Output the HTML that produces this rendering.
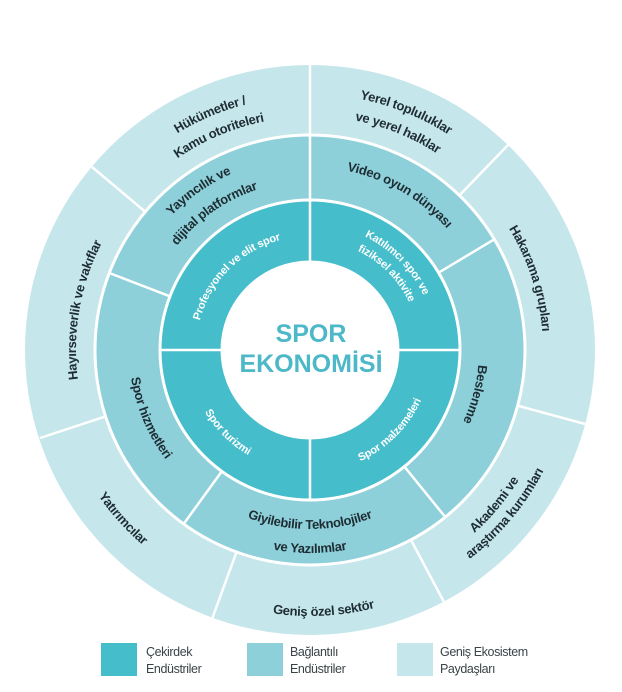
<!DOCTYPE html>
<html><head><meta charset="utf-8"><style>
html,body{margin:0;padding:0;background:#fff;}
svg{display:block;}
.o{font-family:"Liberation Sans",sans-serif;font-weight:bold;font-size:13px;fill:#1e2c33;letter-spacing:-0.3px;}
.i{font-family:"Liberation Sans",sans-serif;font-weight:bold;font-size:11px;fill:#fff;letter-spacing:-0.2px;}
.l{font-family:"Liberation Sans",sans-serif;font-size:12.5px;fill:#3a4448;letter-spacing:-0.4px;}
</style></head><body>
<svg width="622" height="692" viewBox="0 0 622 692" xmlns="http://www.w3.org/2000/svg">
<defs>
<path id="hk1" d="M90,229 A254,254 0 0 1 371.5,109.6"/>
<path id="hk2" d="M108.2,239.5 A233,233 0 0 1 366.4,129.9"/>
<path id="yr1" d="M243.7,108.7 A256,256 0 0 1 529.4,224.2"/>
<path id="yr2" d="M249.4,130 A234,234 0 0 1 510.5,235.5"/>
<path id="hak" d="M426.5,154.2 A233,233 0 0 1 522.9,450.8"/>
<path id="ak1" d="M352.8,598.3 A246,246 0 0 0 556,356"/>
<path id="ak2" d="M355.8,615.1 A263,263 0 0 0 573,356"/>
<path id="gen" d="M149.9,568.5 A266,266 0 0 0 491.4,550.5"/>
<path id="yat" d="M53.2,365 A257,257 0 0 0 274.2,610.5"/>
<path id="hay" d="M107.4,473 A234,234 0 0 1 159.6,176.7"/>
<path id="yay1" d="M123.6,306 A193,193 0 0 1 326.8,163.8"/>
<path id="yay2" d="M146.8,312.2 A169,169 0 0 1 324.7,187.7"/>
<path id="vid" d="M278.2,175.8 A183,183 0 0 1 482,293.4"/>
<path id="bes" d="M463.1,284.5 A169,169 0 0 1 407,494.4"/>
<path id="giy1" d="M172.9,471.1 A179,179 0 0 0 447.1,471.1"/>
<path id="giy2" d="M154.5,486.5 A203,203 0 0 0 465.5,486.5"/>
<path id="hiz" d="M139.9,294.1 A181,181 0 0 0 236.3,521.4"/>
<path id="pro" d="M196,356 A114,114 0 0 1 310,242"/>
<path id="kat1" d="M310,230 A126,126 0 0 1 436,356"/>
<path id="kat2" d="M310,246 A110,110 0 0 1 420,356"/>
<path id="tur" d="M188,356 A122,122 0 0 0 310,478"/>
<path id="mal" d="M310,478 A122,122 0 0 0 432,356"/>
</defs>
<g transform="translate(0,-6)">
<circle cx="310" cy="356" r="285" fill="#c5e6eb"/>
<circle cx="310" cy="356" r="215" fill="#8dd0d9" stroke="#fff" stroke-width="3"/>
<circle cx="310" cy="356" r="150" fill="#46bdcb" stroke="#fff" stroke-width="3"/>
<circle cx="310" cy="356" r="88" fill="#fff" stroke="#fff" stroke-width="3"/>
<g stroke="#fff" stroke-width="2.5">
<line x1="310" y1="141" x2="310" y2="68"/>
<line x1="459.4" y1="201.4" x2="508" y2="151"/>
<line x1="517.7" y1="411.7" x2="585" y2="430"/>
<line x1="410.9" y1="545.8" x2="444" y2="608"/>
<line x1="236.5" y1="558.1" x2="212" y2="625"/>
<line x1="105.5" y1="422.4" x2="40" y2="444"/>
<line x1="145.3" y1="217.8" x2="92" y2="173"/>
<line x1="310" y1="206" x2="310" y2="141"/>
<line x1="438.6" y1="278.7" x2="494.3" y2="245.3"/>
<line x1="404.4" y1="472.6" x2="445.3" y2="523.1"/>
<line x1="221.8" y1="477.4" x2="183.6" y2="530"/>
<line x1="169.9" y1="302.3" x2="109.3" y2="279"/>
<line x1="310" y1="268" x2="310" y2="206"/>
<line x1="398" y1="356" x2="460" y2="356"/>
<line x1="310" y1="444" x2="310" y2="506"/>
<line x1="222" y1="356" x2="160" y2="356"/>
</g>
<g class="o" text-anchor="middle">
<text><textPath href="#hk1" startOffset="50%">Hükümetler /</textPath></text>
<text><textPath href="#hk2" startOffset="50%">Kamu otoriteleri</textPath></text>
<text><textPath href="#yr1" startOffset="50%">Yerel topluluklar</textPath></text>
<text><textPath href="#yr2" startOffset="50%">ve yerel halklar</textPath></text>
<text><textPath href="#hak" startOffset="50%">Hakarama grupları</textPath></text>
<text><textPath href="#ak1" startOffset="50%">Akademi ve</textPath></text>
<text><textPath href="#ak2" startOffset="50%">araştırma kurumları</textPath></text>
<text><textPath href="#gen" startOffset="50%">Geniş özel sektör</textPath></text>
<text><textPath href="#yat" startOffset="50%">Yatırımcılar</textPath></text>
<text><textPath href="#hay" startOffset="50%">Hayırseverlik ve vakıflar</textPath></text>
<text><textPath href="#yay1" startOffset="50%">Yayıncılık ve</textPath></text>
<text><textPath href="#yay2" startOffset="50%">dijital platformlar</textPath></text>
<text><textPath href="#vid" startOffset="50%">Video oyun dünyası</textPath></text>
<text><textPath href="#bes" startOffset="50%">Beslenme</textPath></text>
<text><textPath href="#giy1" startOffset="50%">Giyilebilir Teknolojiler</textPath></text>
<text><textPath href="#giy2" startOffset="50%">ve Yazılımlar</textPath></text>
<text><textPath href="#hiz" startOffset="50%">Spor hizmetleri</textPath></text>
</g>
<g class="i" text-anchor="middle">
<text><textPath href="#pro" startOffset="50%">Profesyonel ve elit spor</textPath></text>
<text><textPath href="#kat1" startOffset="50%">Katılımcı spor ve</textPath></text>
<text><textPath href="#kat2" startOffset="50%">fiziksel aktivite</textPath></text>
<text><textPath href="#tur" startOffset="50%">Spor turizmi</textPath></text>
<text><textPath href="#mal" startOffset="50%">Spor malzemeleri</textPath></text>
</g>
<g font-family="Liberation Sans, sans-serif" font-weight="bold" font-size="25" fill="#4db8c8" text-anchor="middle">
<text x="311" y="348">SPOR</text>
<text x="311" y="378">EKONOMİSİ</text>
</g>
</g>
<rect x="101" y="643" width="36" height="33" fill="#46bdcb"/>
<rect x="247" y="643" width="36" height="33" fill="#8dd0d9"/>
<rect x="397" y="643" width="36" height="33" fill="#c5e6eb"/>
<text class="l" x="146" y="656">Çekirdek</text>
<text class="l" x="146" y="673">Endüstriler</text>
<text class="l" x="290" y="656">Bağlantılı</text>
<text class="l" x="290" y="673">Endüstriler</text>
<text class="l" x="440" y="656">Geniş Ekosistem</text>
<text class="l" x="440" y="673">Paydaşları</text>
</svg>
</body></html>
